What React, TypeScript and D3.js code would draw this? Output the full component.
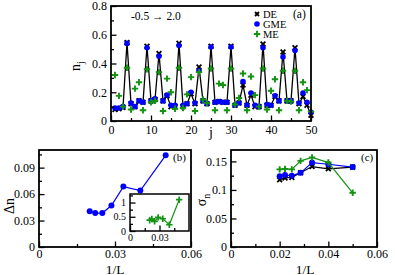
import React, { useEffect, useRef } from 'react';
import * as d3 from 'd3';

// site index j
const sites = [
  1, 2, 3, 4, 5, 6, 7, 8, 9, 10, 11, 12, 13, 14, 15, 16, 17, 18, 19, 20, 21, 22, 23, 24, 25,
  26, 27, 28, 29, 30, 31, 32, 33, 34, 35, 36, 37, 38, 39, 40, 41, 42, 43, 44, 45, 46, 47, 48, 49, 50,
];
const densDE = [
  0.08, 0.085, 0.095, 0.545, 0.12, 0.1, 0.14, 0.13, 0.52, 0.14, 0.15, 0.47, 0.14, 0.175, 0.1, 0.1, 0.54, 0.1, 0.12, 0.19,
  0.12, 0.375, 0.14, 0.12, 0.52, 0.13, 0.135, 0.13, 0.13, 0.52, 0.11, 0.125, 0.25, 0.11, 0.18, 0.1, 0.1, 0.535, 0.11, 0.11,
  0.17, 0.14, 0.48, 0.14, 0.14, 0.51, 0.12, 0.17, 0.11, 0.04,
];
const densGME = [
  0.09, 0.09, 0.1, 0.54, 0.125, 0.1, 0.14, 0.13, 0.51, 0.14, 0.155, 0.45, 0.14, 0.18, 0.11, 0.11, 0.525, 0.11, 0.12, 0.2,
  0.125, 0.35, 0.14, 0.12, 0.515, 0.13, 0.135, 0.13, 0.13, 0.515, 0.11, 0.125, 0.275, 0.11, 0.195, 0.11, 0.1, 0.51, 0.115, 0.11,
  0.175, 0.14, 0.445, 0.14, 0.14, 0.49, 0.125, 0.195, 0.13, 0.06,
];
const densME = [
  0.32, 0.175, 0.1, 0.37, 0.08, 0.225, 0.27, 0.075, 0.36, 0.13, 0.14, 0.34, 0.07, 0.295, 0.2, 0.085, 0.37, 0.09, 0.185, 0.305,
  0.07, 0.34, 0.15, 0.125, 0.365, 0.075, 0.26, 0.25, 0.075, 0.365, 0.115, 0.16, 0.33, 0.075, 0.31, 0.18, 0.1, 0.365, 0.08, 0.21,
  0.29, 0.075, 0.35, 0.14, 0.135, 0.35, 0.075, 0.27, 0.215, 0.065,
];

// 1/L
const invL = [0.02, 0.0222, 0.025, 0.0286, 0.0333, 0.04, 0.05];
const deltaN = [0.0405, 0.0385, 0.0385, 0.047, 0.0685, 0.064, 0.104];
const deltaNInset = [0.38, 0.42, 0.34, 0.48, 0.43, 0.22, 1.1];
const sigmaDE = [0.118, 0.121, 0.122, 0.13, 0.141, 0.137, 0.14];
const sigmaGME = [0.124, 0.126, 0.125, 0.13, 0.148, 0.145, 0.14];
const sigmaME = [0.136, 0.137, 0.136, 0.151, 0.157, 0.148, 0.095];

const BLUE = '#0000ff';
const GREEN = '#129312';
const FONT = '"Liberation Serif", "Times New Roman", serif';

const crossPath = 'M-2.4,-2.4L2.4,2.4M-2.4,2.4L2.4,-2.4';
const plusPath = 'M-3.2,0H3.2M0,-3.2V3.2';

function frame(g, x, y, o) {
  const fs = o.fs || 12;
  const [x0, x1] = x.range();
  const [y0, y1] = y.range();
  const fmt = (d) => String(d);
  // x ticks
  g.append('g')
    .attr('transform', `translate(0,${y0})`)
    .call(d3.axisBottom(x).tickValues(o.xMinor).tickSizeInner(-3).tickSizeOuter(0).tickFormat(() => ''))
    .call((a) => a.select('.domain').remove());
  g.append('g')
    .attr('transform', `translate(0,${y0})`)
    .call(d3.axisBottom(x).tickValues(o.xTicks).tickSizeInner(-5.5).tickSizeOuter(0).tickPadding(o.xpad || 3).tickFormat(fmt))
    .call((a) => a.select('.domain').remove())
    .call((a) => a.selectAll('text').attr('font-size', fs).attr('font-family', FONT).attr('fill', '#000'));
  // y ticks
  g.append('g')
    .attr('transform', `translate(${x0},0)`)
    .call(d3.axisLeft(y).tickValues(o.yMinor).tickSizeInner(-3).tickSizeOuter(0).tickFormat(() => ''))
    .call((a) => a.select('.domain').remove());
  g.append('g')
    .attr('transform', `translate(${x0},0)`)
    .call(d3.axisLeft(y).tickValues(o.yTicks).tickSizeInner(-5.5).tickSizeOuter(0).tickPadding(4).tickFormat(fmt))
    .call((a) => a.select('.domain').remove())
    .call((a) => a.selectAll('text').attr('font-size', fs).attr('font-family', FONT).attr('fill', '#000'));
  g.selectAll('.tick line').attr('stroke', '#000').attr('stroke-width', 1.3);
  g.append('rect')
    .attr('x', x0).attr('y', y1)
    .attr('width', x1 - x0).attr('height', y0 - y1)
    .attr('fill', 'none').attr('stroke', '#000').attr('stroke-width', o.sw || 1.8);
}

function series(g, xs, ys, x, y, opt) {
  const pts = xs.map((d, i) => [x(d), y(ys[i])]);
  if (opt.line) {
    g.append('path')
      .attr('d', d3.line()(pts))
      .attr('fill', 'none').attr('stroke', opt.line).attr('stroke-width', opt.lw || 1.2);
  }
  if (opt.mark === 'circle') {
    g.append('g').selectAll('circle').data(pts).join('circle')
      .attr('cx', (d) => d[0]).attr('cy', (d) => d[1]).attr('r', opt.r || 2.8).attr('fill', opt.color);
  } else if (opt.mark) {
    g.append('g').selectAll('path').data(pts).join('path')
      .attr('transform', (d) => `translate(${d[0]},${d[1]})`)
      .attr('d', opt.mark === 'cross' ? crossPath : plusPath)
      .attr('fill', 'none').attr('stroke', opt.color).attr('stroke-width', opt.mw || 1.9);
  }
}

function label(g, x, y, text, fs, anchor = 'start') {
  return g.append('text')
    .attr('x', x).attr('y', y)
    .attr('font-family', FONT).attr('font-size', fs).attr('text-anchor', anchor)
    .text(text);
}

export default function App() {
  const ref = useRef(null);

  useEffect(() => {
    const svg = d3.select(ref.current);
    svg.selectAll('*').remove();

    // ---- panel (a)
    const ga = svg.append('g');
    const xa = d3.scaleLinear().domain([0, 50]).range([111, 311]);
    const ya = d3.scaleLinear().domain([0, 0.8]).range([121, 6]);
    series(ga, sites, densDE, xa, ya, { line: '#000', lw: 1.3, mark: 'cross', color: '#000', mw: 1.8 });
    series(ga, sites, densGME, xa, ya, { mark: 'circle', color: BLUE, r: 2.8 });
    series(ga, sites, densME, xa, ya, { mark: 'plus', color: GREEN });
    frame(ga, xa, ya, {
      xTicks: [0, 10, 20, 30, 40, 50], xMinor: [5, 15, 25, 35, 45],
      yTicks: [0, 0.2, 0.4, 0.6, 0.8], yMinor: [0.1, 0.3, 0.5, 0.7], fs: 12, xpad: 4,
    });
    label(ga, 131, 20, '-0.5 \u2192 2.0', 11.5);
    label(ga, 293, 18, '(a)', 11.5);
    // legend
    const leg = [
      ['DE', 'cross', '#000'],
      ['GME', 'circle', BLUE],
      ['ME', 'plus', GREEN],
    ];
    leg.forEach(([name, mark, color], i) => {
      const cy = 14 + i * 10;
      if (mark === 'circle') {
        ga.append('circle').attr('cx', 257).attr('cy', cy).attr('r', 2.8).attr('fill', color);
      } else {
        ga.append('path').attr('transform', `translate(257,${cy})`)
          .attr('d', mark === 'cross' ? 'M-2,-2L2,2M-2,2L2,-2' : plusPath)
          .attr('fill', 'none').attr('stroke', color).attr('stroke-width', 1.9);
      }
      label(ga, 263, cy + 3.8, name, 10.5);
    });
    const ny = ga.append('text')
      .attr('transform', 'translate(80,66) rotate(-90)')
      .attr('font-family', FONT).attr('font-size', 14).attr('text-anchor', 'middle');
    ny.append('tspan').text('n');
    ny.append('tspan').attr('font-size', 10).attr('dy', 4).text('j');
    label(ga, 211, 137, 'j', 14, 'middle');

    // ---- panel (b)
    const gb = svg.append('g');
    const xb = d3.scaleLinear().domain([0, 0.06]).range([39, 191]);
    const yb = d3.scaleLinear().domain([0, 0.11]).range([247, 150]);
    series(gb, invL, deltaN, xb, yb, { line: BLUE, lw: 1.2, mark: 'circle', color: BLUE, r: 3 });
    frame(gb, xb, yb, {
      xTicks: [0, 0.03, 0.06], xMinor: [0.015, 0.045],
      yTicks: [0, 0.03, 0.06, 0.09], yMinor: [0.015, 0.045, 0.075, 0.105], fs: 12, xpad: 2.5,
    });
    label(gb, 173, 161, '(b)', 11);
    const dl = gb.append('text')
      .attr('transform', 'translate(14,206) rotate(-90)')
      .attr('font-family', FONT).attr('font-size', 14).attr('text-anchor', 'middle');
    dl.text('\u0394n');
    label(gb, 115, 273.5, '1/L', 13.5, 'middle');

    // inset
    const gi = svg.append('g');
    const xi = d3.scaleLinear().domain([0, 0.06]).range([130, 189]);
    const yi = d3.scaleLinear().domain([0, 1.3]).range([231, 194]);
    gi.append('rect').attr('x', 130).attr('y', 194).attr('width', 59).attr('height', 37).attr('fill', '#fff');
    series(gi, invL, deltaNInset, xi, yi, { line: GREEN, lw: 1.2, mark: 'plus', color: GREEN, mw: 1.7 });
    frame(gi, xi, yi, {
      xTicks: [0, 0.03], xMinor: [0.015, 0.045],
      yTicks: [0, 0.5, 1], yMinor: [0.25, 0.75, 1.25], fs: 10, sw: 1.5,
    });

    // ---- panel (c)
    const gc = svg.append('g');
    const xc = d3.scaleLinear().domain([0, 0.06]).range([231, 377]);
    const yc = d3.scaleLinear().domain([0, 0.17]).range([247, 150]);
    series(gc, invL, sigmaDE, xc, yc, { line: '#000', lw: 1.2, mark: 'cross', color: '#000', mw: 1.8 });
    series(gc, invL, sigmaGME, xc, yc, { line: BLUE, lw: 1.2, mark: 'circle', color: BLUE, r: 3 });
    series(gc, invL, sigmaME, xc, yc, { line: GREEN, lw: 1.2, mark: 'plus', color: GREEN });
    frame(gc, xc, yc, {
      xTicks: [0, 0.02, 0.04, 0.06], xMinor: [0.01, 0.03, 0.05],
      yTicks: [0, 0.05, 0.1, 0.15], yMinor: [0.025, 0.075, 0.125], fs: 12, xpad: 2.5,
    });
    label(gc, 361, 161, '(c)', 11);
    const sl = gc.append('text')
      .attr('transform', 'translate(206,200) rotate(-90)')
      .attr('font-family', FONT).attr('font-size', 14).attr('text-anchor', 'middle');
    sl.append('tspan').text('\u03c3');
    sl.append('tspan').attr('font-size', 10).attr('dy', 4).text('n');
    label(gc, 305, 273.5, '1/L', 13.5, 'middle');
  }, []);

  return (
    <svg
      ref={ref}
      width={395}
      height={275}
      style={{ position: 'absolute', left: 0, top: 0, background: '#fff' }}
    />
  );
}
